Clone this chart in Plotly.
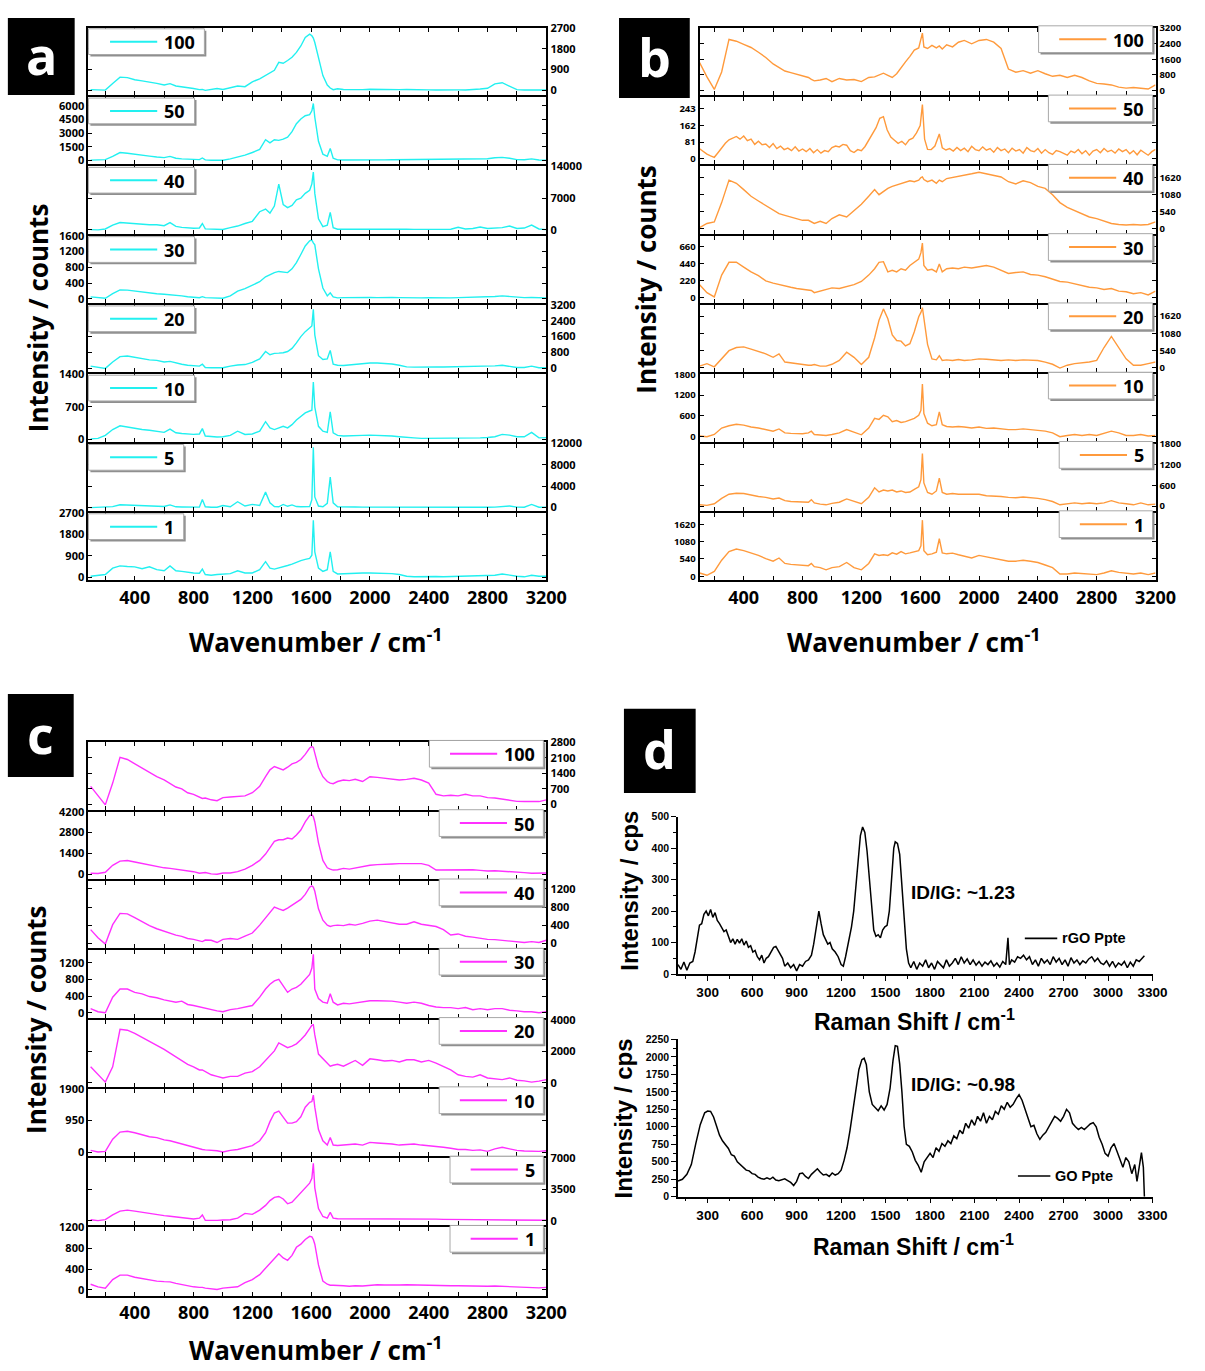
import plotly.graph_objects as go

W, H = 1205, 1371

# ---------------------------------------------------------------------------
# Data
# ---------------------------------------------------------------------------
# Raman shift grid shared by the stacked spectra (cm^-1)
WAVENUMBER = [
    100, 150, 200, 250, 300, 350, 400, 450, 500, 550,
    600, 640, 680, 720, 760, 800, 840, 860, 880, 920,
    960, 1000, 1050, 1100, 1150, 1200, 1250, 1290, 1320, 1350,
    1380, 1410, 1440, 1470, 1500, 1530, 1560, 1590, 1605, 1615,
    1625, 1650, 1680, 1710, 1730, 1750, 1780, 1820, 1860, 1900,
    1950, 2000, 2050, 2100, 2150, 2200, 2250, 2300, 2350, 2400,
    2450, 2500, 2550, 2600, 2650, 2700, 2750, 2800, 2850, 2900,
    2950, 3000, 3050, 3100, 3150, 3200,
]
# finer grid for the noisy 50-cycle spectrum of panel b
B50_SHIFT = [
    100, 125, 150, 175, 200, 225, 250, 275, 300, 325,
    350, 375, 400, 425, 450, 475, 500, 525, 550, 575,
    600, 625, 650, 675, 700, 725, 750, 775, 800, 825,
    850, 875, 900, 925, 950, 975, 1000, 1025, 1050, 1075,
    1100, 1125, 1150, 1175, 1200, 1225, 1250, 1275, 1300, 1325,
    1350, 1375, 1400, 1425, 1450, 1475, 1500, 1525, 1550, 1575,
    1600, 1615, 1630, 1650, 1675, 1700, 1730, 1750, 1775, 1800,
    1825, 1850, 1875, 1900, 1925, 1950, 1975, 2000, 2025, 2050,
    2075, 2100, 2125, 2150, 2175, 2200, 2225, 2250, 2275, 2300,
    2325, 2350, 2375, 2400, 2425, 2450, 2475, 2500, 2525, 2550,
    2575, 2600, 2625, 2650, 2675, 2700, 2725, 2750, 2775, 2800,
    2825, 2850, 2875, 2900, 2925, 2950, 2975, 3000, 3025, 3050,
    3075, 3100, 3125, 3150, 3175, 3200,
]

SAMPLE_LABELS = ["100", "50", "40", "30", "20", "10", "5", "1"]

# ---- panel a (cyan) ----
A_100 = [
    30, 25, 10, 300, 570, 550, 460, 410, 370, 300,
    230, 290, 190, 160, 120, 80, 30, 40, 0, 30,
    80, 40, 100, 190, 160, 370, 500, 640, 750, 870,
    1210, 1170, 1290, 1430, 1640, 1920, 2290, 2430, 2360, 2260,
    2070, 1430, 640, 230, 100, 30, 70, 40, 30, 45,
    30, 50, 40, 35, 45, 30, 40, 25, 35, 20,
    15, 25, 10, 20, 15, 25, 60, 90, 280, 330,
    180, 30, 15, 20, 10, 15,
]
A_50 = [
    50, 50, 100, 450, 880, 800, 670, 560, 490, 390,
    320, 460, 250, 180, 140, 70, 100, 280, 70, 35,
    35, 35, 180, 350, 600, 880, 1230, 2280, 1930, 2280,
    2210, 2350, 2560, 3160, 4040, 4560, 4910, 5020, 5440, 6250,
    4740, 2110, 700, 460, 1330, 250, 70, 60, 50, 70,
    60, 70, 80, 70, 80, 90, 80, 90, 100, 90,
    100, 110, 100, 110, 120, 110, 130, 200, 300, 350,
    250, 100, 90, 180, 60, 30,
]
A_40 = [
    50, 0, 200, 1050, 1610, 1470, 1330, 1190, 1120, 1120,
    910, 1610, 770, 560, 420, 350, 420, 1400, 210, 140,
    140, 70, 490, 840, 1400, 1890, 4000, 4600, 3710, 5250,
    10100, 5600, 4900, 5390, 6650, 7000, 8050, 8750, 10150, 12740,
    8050, 2450, 700, 1050, 3850, 490, 140, 150, 140, 180,
    200, 210, 220, 200, 180, 150, 120, 100, 80, 60,
    90, 80, 150, 560, 200, 300, 630, 300, 400, 500,
    840, 300, 400, 1050, 200, 50,
]
A_30 = [
    50, 30, 15, 130, 225, 220, 195, 170, 145, 130,
    115, 105, 95, 75, 55, 50, 30, 55, 30, 25,
    15, 15, 75, 195, 260, 355, 435, 560, 615, 665,
    695, 680, 665, 760, 920, 1125, 1340, 1470, 1490, 1420,
    1370, 760, 275, 75, 155, 50, 25, 30, 35, 30,
    40, 35, 30, 40, 35, 30, 25, 30, 25, 30,
    25, 30, 25, 30, 35, 30, 40, 50, 60, 75,
    60, 40, 30, 35, 25, 25,
]
A_20 = [
    100, 30, -15, 310, 580, 615, 550, 470, 420, 390,
    310, 340, 260, 195, 145, 115, 100, 195, 30, 15,
    0, 15, 100, 160, 180, 290, 470, 840, 680, 745,
    760, 780, 840, 1000, 1280, 1600, 1850, 2060, 2140, 2980,
    1690, 630, 440, 470, 900, 195, 145, 130, 160, 195,
    195, 260, 260, 245, 210, 145, 65, 50, 65, 60,
    65, 55, 65, 60, 70, 60, 70, 80, 115, 145,
    100, 30, 30, 100, 15, 15,
]
A_10 = [
    10, 20, 85, 210, 290, 260, 245, 210, 195, 180,
    150, 220, 140, 125, 110, 105, 115, 230, 70, 55,
    50, 55, 85, 175, 105, 115, 175, 380, 245, 210,
    250, 280, 245, 315, 415, 485, 570, 610, 625, 1235,
    695, 280, 175, 150, 590, 140, 85, 70, 70, 70,
    85, 90, 85, 85, 70, 55, 35, 30, 20, 20,
    25, 20, 25, 20, 30, 25, 30, 40, 55, 105,
    90, 55, 55, 150, 30, 35,
]
A_5 = [
    0, 20, 60, 180, 540, 500, 420, 360, 300, 250,
    200, 500, 150, 120, 100, 80, 100, 1500, 150, 80,
    80, 400, 150, 1100, 300, 600, 400, 2900, 900, 200,
    150, 600, 250, 500, 200, 150, 150, 200, 1500, 11300,
    2000, 300, 150, 800, 5700, 900, 150, 100, 90, 110,
    100, 90, 100, 80, 90, 70, 60, 50, 60, 50,
    60, 50, 40, 60, 50, 60, 70, 80, 100, 150,
    300, 100, 80, 600, 80, 60,
]
A_1 = [
    40, 70, 110, 380, 475, 450, 435, 355, 435, 315,
    270, 475, 270, 245, 205, 175, 165, 340, 110, 80,
    110, 120, 150, 270, 175, 175, 315, 650, 380, 340,
    380, 450, 490, 545, 625, 695, 750, 790, 925, 2390,
    1060, 380, 245, 315, 1060, 245, 135, 150, 165, 150,
    175, 175, 165, 165, 150, 110, 40, 15, 30, 25,
    30, 20, 30, 25, 35, 30, 40, 50, 80, 135,
    80, 40, 15, 80, 40, 40,
]

# ---- panel b (orange) ----
B_100 = [
    1430, 700, 60, 950, 2610, 2520, 2360, 2200, 1960, 1690,
    1360, 1200, 1000, 920, 840, 780, 670, 570, 500, 540,
    620, 460, 620, 540, 570, 460, 670, 700, 780, 890,
    780, 670, 860, 1180, 1470, 1750, 2070, 2180, 2560, 2930,
    2230, 2150, 2310, 2180, 2280, 2120, 2340, 2230, 2470, 2560,
    2390, 2560, 2610, 2470, 2150, 1100, 940, 1020, 890, 1020,
    860, 730, 780, 670, 780, 670, 500, 370, 340, 290,
    180, 130, 160, 130, 80, 290,
]
B_50 = [
    49, 35, 23, 15, 8, 30, 54, 75, 92, 100,
    108, 95, 110, 88, 95, 70, 85, 68, 72, 55,
    74, 50, 62, 45, 52, 40, 58, 38, 48, 35,
    50, 30, 45, 28, 40, 35, 55, 62, 58, 70,
    66, 40, 31, 45, 40, 60, 92, 120, 150, 195,
    203, 140, 105, 90, 75, 85, 68, 92, 100, 125,
    160, 261, 95, 46, 45, 62, 120, 54, 43, 50,
    38, 55, 40, 52, 35, 61, 45, 40, 58, 42,
    50, 32, 55, 40, 48, 30, 52, 38, 45, 28,
    55, 40, 35, 50, 28, 45, 30, 22, 40, 35,
    25, 18, 38, 30, 45, 25, 40, 18, 38, 45,
    30, 50, 35, 42, 28, 48, 35, 45, 25, 40,
    20, 42, 30, 18, 35, 46,
]
B_40 = [
    40, 170, 220, 830, 1540, 1440, 1240, 1030, 880, 730,
    580, 480, 425, 375, 325, 270, 270, 220, 170, 240,
    170, 325, 445, 375, 580, 780, 1030, 1240, 1080, 1180,
    1280, 1340, 1390, 1440, 1490, 1520, 1490, 1540, 1620, 1640,
    1560, 1490, 1540, 1440, 1540, 1490, 1590, 1620, 1660, 1690,
    1740, 1790, 1740, 1690, 1640, 1490, 1420, 1520, 1460, 1340,
    1280, 1080, 830, 680, 580, 480, 375, 325, 240, 170,
    140, 120, 140, 120, 140, 220,
]
B_30 = [
    167, 63, 8, 292, 459, 459, 396, 334, 284, 217,
    188, 167, 146, 133, 117, 104, 100, 92, 63, 83,
    104, 125, 117, 146, 167, 209, 292, 375, 459, 467,
    334, 355, 334, 375, 355, 417, 459, 500, 584, 709,
    417, 355, 367, 334, 438, 334, 375, 384, 375, 396,
    384, 396, 417, 396, 355, 313, 325, 334, 300, 292,
    271, 242, 209, 200, 175, 159, 133, 125, 104, 117,
    83, 75, 50, 63, 33, 83,
]
B_20 = [
    40, 120, 20, 270, 530, 630, 650, 580, 510, 430,
    320, 430, 170, 140, 120, 100, 70, 70, 90, 40,
    40, 100, 220, 480, 320, 90, 320, 930, 1490, 1850,
    1540, 1030, 850, 830, 680, 750, 1130, 1600, 1740, 1890,
    1540, 730, 270, 240, 370, 220, 240, 220, 250, 220,
    240, 270, 260, 240, 220, 240, 220, 240, 220, 220,
    170, 100, -20, 70, 120, 140, 170, 220, 630, 980,
    630, 270, 70, 70, 120, 170,
]
B_10 = [
    20, 0, 65, 250, 315, 360, 335, 280, 250, 205,
    160, 225, 110, 95, 95, 85, 110, 160, 65, 45,
    35, 65, 110, 205, 130, 55, 250, 530, 500, 620,
    575, 435, 465, 410, 435, 480, 530, 620, 760, 1520,
    670, 390, 315, 345, 715, 345, 295, 280, 295, 280,
    250, 280, 240, 250, 225, 205, 205, 225, 205, 185,
    160, 110, 0, 35, 65, 35, 65, 35, 95, 160,
    110, 35, 35, 65, 20, 35,
]
B_5 = [
    35, 20, 65, 220, 340, 370, 360, 315, 275, 250,
    205, 230, 155, 130, 130, 110, 110, 185, 90, 55,
    35, 75, 110, 205, 130, 65, 250, 525, 405, 460,
    435, 460, 405, 435, 390, 405, 480, 555, 760, 1515,
    665, 390, 340, 435, 805, 390, 340, 360, 340, 340,
    325, 340, 295, 295, 275, 250, 240, 260, 250, 220,
    185, 130, 35, 65, 90, 65, 85, 65, 90, 155,
    90, 65, 35, 90, 35, 55,
]
B_1 = [
    100, 30, 150, 500, 770, 850, 800, 730, 650, 550,
    470, 570, 400, 370, 350, 330, 330, 400, 300, 270,
    200, 270, 300, 430, 270, 200, 400, 700, 650, 670,
    650, 730, 690, 770, 700, 730, 770, 800, 950, 1750,
    800, 670, 700, 750, 1170, 730, 700, 720, 670, 630,
    570, 650, 600, 550, 500, 470, 470, 500, 470, 430,
    350, 270, 70, 70, 100, 90, 70, 50, 100, 170,
    120, 90, 70, 100, 50, 100,
]

# ---- panel c (magenta) ----
C_100 = [
    810, 380, -30, 960, 2130, 2030, 1840, 1650, 1460, 1250,
    1100, 930, 780, 700, 520, 450, 300, 260, 280, 200,
    160, 300, 330, 350, 380, 520, 810, 1250, 1560, 1710,
    1650, 1560, 1680, 1830, 1900, 2030, 2260, 2550, 2620, 2580,
    2320, 1680, 1250, 1030, 960, 930, 1030, 1100, 1070, 1130,
    1030, 1250, 1220, 1180, 1160, 1100, 1130, 1180, 1100, 960,
    450, 380, 410, 380, 450, 380, 380, 300, 280, 230,
    160, 130, 120, 120, 120, 200,
]
C_50 = [
    65, 45, 130, 600, 880, 925, 820, 710, 600, 495,
    430, 390, 345, 300, 260, 170, 65, 65, 110, 20,
    0, 85, 85, 170, 345, 600, 925, 1355, 1785, 2215,
    2320, 2320, 2430, 2365, 2645, 2970, 3515, 3940, 4000, 3870,
    3515, 2110, 925, 430, 345, 280, 300, 390, 345, 430,
    495, 600, 645, 645, 690, 710, 690, 710, 710, 600,
    280, 280, 300, 280, 320, 300, 260, 215, 235, 215,
    170, 130, 110, 65, 65, 85,
]
C_40 = [
    300, 120, -20, 410, 660, 650, 565, 475, 390, 320,
    260, 225, 180, 150, 105, 85, 50, 35, 70, 65,
    15, 85, 105, 85, 155, 225, 400, 560, 690, 800,
    760, 725, 775, 845, 915, 970, 1080, 1240, 1270, 1240,
    1150, 760, 510, 400, 370, 390, 400, 390, 420, 400,
    440, 490, 510, 475, 440, 420, 420, 475, 420, 400,
    370, 300, 180, 205, 155, 135, 105, 85, 80, 65,
    35, 30, 15, 35, 15, 65,
]
C_30 = [
    100, 25, 0, 375, 570, 570, 490, 455, 390, 360,
    310, 280, 255, 280, 200, 175, 140, 125, 100, 75,
    45, 25, 75, 100, 140, 175, 375, 570, 685, 765,
    800, 645, 490, 570, 610, 685, 800, 920, 1075, 1405,
    570, 340, 255, 230, 455, 255, 190, 230, 215, 240,
    255, 290, 290, 290, 280, 255, 230, 255, 230, 175,
    140, 125, 125, 100, 125, 75, 100, 75, 100, 100,
    60, 45, 25, 25, 0, 25,
]
C_20 = [
    1010, 505, 40, 1010, 3390, 3330, 3130, 2870, 2625, 2380,
    2120, 1880, 1660, 1415, 1170, 1010, 810, 810, 710, 505,
    405, 305, 405, 405, 610, 710, 1010, 1415, 1660, 2020,
    2525, 2380, 2220, 2320, 2465, 2725, 3030, 3430, 3635, 3680,
    3030, 1820, 1515, 1210, 1050, 1110, 1170, 1050, 1210, 1415,
    1110, 1515, 1455, 1375, 1415, 1315, 1455, 1455, 1315, 1415,
    1250, 1010, 810, 505, 405, 360, 505, 305, 240, 200,
    305, 160, 120, 40, 100, 200,
]
C_10 = [
    50, 0, 20, 385, 600, 625, 580, 530, 460, 435,
    365, 340, 290, 240, 195, 145, 95, 75, 65, 50,
    40, 0, 50, 75, 145, 195, 340, 580, 915, 1175,
    1235, 1060, 870, 870, 915, 1060, 1350, 1495, 1520, 1715,
    1350, 675, 340, 210, 435, 210, 195, 210, 230, 240,
    210, 290, 270, 260, 240, 210, 230, 240, 210, 195,
    175, 145, 115, 75, 75, 50, 65, 20, 95, 145,
    95, 50, 30, 20, 20, 40,
]
C_5 = [
    110, 0, 110, 640, 1070, 1180, 1070, 930, 820, 710,
    570, 500, 430, 360, 285, 180, 285, 640, 35, 0,
    35, 70, 110, 285, 820, 710, 1180, 1710, 2250, 2610,
    2710, 2430, 1890, 2070, 2610, 3140, 3680, 4210, 4750, 6430,
    3680, 1360, 465, 285, 930, 285, 215, 215, 200, 230,
    220, 240, 230, 215, 200, 210, 200, 190, 200, 180,
    170, 150, 140, 120, 120, 110, 110, 100, 120, 140,
    110, 80, 60, 50, 40, 40,
]
C_1 = [
    110, 60, 35, 200, 285, 285, 245, 220, 185, 170,
    160, 155, 125, 100, 80, 60, 50, 50, 35, 20,
    10, 35, 50, 60, 140, 200, 295, 420, 510, 600,
    695, 615, 570, 665, 820, 880, 970, 1030, 1020, 970,
    880, 480, 170, 110, 90, 90, 80, 80, 70, 80,
    75, 90, 100, 95, 90, 95, 100, 95, 90, 95,
    90, 85, 80, 80, 75, 80, 70, 70, 75, 70,
    65, 60, 50, 45, 40, 50,
]

# y tick labels of each stacked frame, top frame first
A_YTICKS = [
    [0, 900, 1800, 2700], [0, 1500, 3000, 4500, 6000], [0, 7000, 14000],
    [0, 400, 800, 1200, 1600], [0, 800, 1600, 2400, 3200], [0, 700, 1400],
    [0, 4000, 8000, 12000], [0, 900, 1800, 2700],
]
B_YTICKS = [
    [0, 800, 1600, 2400, 3200], [0, 81, 162, 243], [0, 540, 1080, 1620],
    [0, 220, 440, 660], [0, 540, 1080, 1620], [0, 600, 1200, 1800],
    [0, 600, 1200, 1800], [0, 540, 1080, 1620],
]
C_YTICKS = [
    [0, 700, 1400, 2100, 2800], [0, 1400, 2800, 4200], [0, 400, 800, 1200],
    [0, 400, 800, 1200], [0, 2000, 4000], [0, 950, 1900],
    [0, 3500, 7000], [0, 400, 800, 1200],
]

# ---- panel d ----
RGO_SHIFT = [
    100, 120, 140, 160, 180, 200, 215, 230, 245, 260,
    275, 290, 305, 320, 335, 350, 365, 380, 395, 410,
    425, 440, 455, 470, 485, 500, 515, 530, 545, 560,
    575, 590, 605, 620, 635, 650, 665, 680, 695, 710,
    725, 745, 760, 775, 790, 805, 820, 840, 860, 880,
    900, 920, 940, 960, 980, 1000, 1015, 1030, 1050, 1065,
    1080, 1095, 1110, 1125, 1140, 1160, 1180, 1200, 1215, 1230,
    1250, 1270, 1285, 1300, 1315, 1330, 1345, 1360, 1375, 1390,
    1405, 1420, 1435, 1450, 1465, 1480, 1495, 1510, 1525, 1540,
    1555, 1565, 1580, 1595, 1610, 1625, 1640, 1655, 1670, 1690,
    1710, 1730, 1750, 1770, 1790, 1810, 1830, 1850, 1870, 1890,
    1910, 1930, 1950, 1970, 1990, 2010, 2030, 2050, 2070, 2090,
    2110, 2130, 2150, 2170, 2190, 2210, 2230, 2250, 2270, 2290,
    2310, 2325, 2335, 2350, 2370, 2390, 2410, 2430, 2450, 2470,
    2490, 2510, 2530, 2550, 2570, 2590, 2610, 2630, 2650, 2670,
    2690, 2710, 2730, 2750, 2770, 2790, 2810, 2830, 2850, 2870,
    2890, 2910, 2930, 2950, 2970, 2990, 3010, 3030, 3050, 3070,
    3090, 3110, 3130, 3150, 3170, 3190, 3210, 3230, 3245,
]
RGO_INTENSITY = [
    30, 15, 38, 12, 35, 40, 70, 110, 155, 160,
    190, 200, 185, 205, 180, 195, 170, 160, 145, 135,
    140, 118, 100, 112, 95, 110, 98, 112, 92, 105,
    85, 90, 70, 75, 55, 45, 60, 35, 50, 55,
    70, 85, 88, 75, 65, 50, 25, 35, 20, 30,
    10, 30, 25, 40, 45, 60, 95, 140, 200, 160,
    125, 110, 95, 100, 80, 70, 55, 30, 25, 55,
    100, 150, 200, 290, 380, 440, 467, 450, 390, 300,
    200, 140, 120, 125, 115, 140, 150, 155, 200, 290,
    400, 420, 415, 380, 280, 160, 80, 35, 20, 40,
    15, 35, 25, 45, 20, 35, 15, 40, 30, 20,
    45, 25, 35, 50, 30, 55, 35, 48, 30, 45,
    28, 40, 25, 38, 30, 42, 25, 35, 22, 40,
    30, 115, 30, 45, 38, 55, 50, 60, 45, 55,
    30, 45, 25, 50, 35, 45, 30, 55, 38, 50,
    30, 45, 25, 52, 35, 45, 30, 42, 35, 48,
    55, 40, 50, 35, 30, 42, 25, 40, 22, 35,
    28, 40, 20, 38, 25, 45, 40, 50, 58,
]
GO_SHIFT = [
    100, 130, 160, 190, 220, 250, 280, 300, 320, 340,
    360, 380, 400, 420, 440, 460, 480, 500, 520, 540,
    560, 580, 600, 620, 640, 660, 680, 700, 720, 740,
    760, 780, 800, 820, 840, 860, 880, 900, 920, 940,
    960, 980, 1000, 1020, 1040, 1060, 1080, 1100, 1120, 1140,
    1160, 1180, 1200, 1220, 1240, 1260, 1280, 1300, 1320, 1340,
    1355, 1370, 1390, 1410, 1430, 1450, 1470, 1490, 1510, 1530,
    1550, 1565, 1580, 1595, 1610, 1625, 1640, 1660, 1680, 1700,
    1720, 1740, 1760, 1780, 1800, 1820, 1840, 1860, 1880, 1900,
    1920, 1940, 1960, 1980, 2000, 2020, 2040, 2060, 2080, 2100,
    2120, 2140, 2160, 2180, 2200, 2220, 2240, 2260, 2280, 2300,
    2320, 2340, 2360, 2380, 2400, 2420, 2440, 2460, 2480, 2500,
    2520, 2540, 2560, 2580, 2600, 2620, 2640, 2660, 2680, 2700,
    2720, 2740, 2760, 2780, 2800, 2820, 2840, 2860, 2880, 2900,
    2920, 2940, 2960, 2980, 3000, 3020, 3040, 3060, 3080, 3100,
    3120, 3140, 3160, 3180, 3195, 3210, 3225, 3238, 3245,
]
GO_INTENSITY = [
    225, 250, 320, 460, 760, 1030, 1200, 1225, 1220, 1140,
    1010, 880, 800, 750, 690, 600, 580, 500, 460, 430,
    380, 370, 330, 320, 280, 260, 250, 270, 250, 280,
    240, 230, 245, 255, 230, 205, 160, 220, 330, 340,
    290, 260, 320, 360, 400, 350, 310, 320, 290, 340,
    310, 330, 380, 520, 700, 950, 1250, 1550, 1820, 1960,
    1980, 1890, 1500, 1320, 1270, 1230, 1300, 1240, 1320, 1550,
    1950, 2160, 2150, 1900, 1500, 1000, 750, 720, 640, 520,
    450, 350, 500, 560, 620, 560, 700, 650, 760, 720,
    800, 760, 870, 830, 950, 900, 1050, 980, 1100, 1020,
    1150, 1080, 1200, 1050, 1150, 1100, 1220, 1180, 1300, 1250,
    1350, 1280, 1320, 1400, 1460, 1380, 1250, 1150, 1000, 1020,
    900, 820, 880, 920, 1000, 1080, 1150, 1120, 1080, 1150,
    1250, 1200, 1050, 1000, 960, 990, 960, 1000, 1040, 1060,
    1000, 850, 750, 620, 580, 700, 760, 650, 520, 420,
    560, 500, 330, 460, 220, 420, 630, 420, 0,
]

# ---------------------------------------------------------------------------
# Figure construction
# ---------------------------------------------------------------------------
STACK_FONT = "Open Sans"
D_FONT = "Liberation Sans"

fig = go.Figure()
axes = {}
shapes = []
annotations = []


def fx(p):
    return p / W


def fy(p):
    return 1 - p / H


def axis_names(n):
    s = "" if n == 1 else str(n)
    return "x" + s, "y" + s, "xaxis" + s, "yaxis" + s


def rect(x0, y0, x1, y1, fill, line_color=None, line_width=0):
    shapes.append(dict(
        type="rect", xref="paper", yref="paper", layer="above",
        x0=fx(x0), x1=fx(x1), y0=fy(y1), y1=fy(y0),
        fillcolor=fill,
        line=dict(color=line_color or fill, width=line_width),
    ))


def hline(x0, x1, y, color, width):
    shapes.append(dict(
        type="line", xref="paper", yref="paper", layer="above",
        x0=fx(x0), x1=fx(x1), y0=fy(y), y1=fy(y),
        line=dict(color=color, width=width),
    ))


def text(x, y, s, size, family, color="black", angle=0, xanchor="center"):
    annotations.append(dict(
        x=fx(x), y=fy(y), xref="paper", yref="paper", text=s,
        showarrow=False, textangle=angle, xanchor=xanchor, yanchor="middle",
        font=dict(family=family, size=size, color=color, weight="bold"),
    ))


LABEL_WIDTH = {1: 10, 2: 21, 3: 31}


def stack_legend(label, color, left, right, top, at_right):
    tw = LABEL_WIDTH[len(label)]
    if at_right:
        t_right = right - 14
        t_left = t_right - tw
        l1 = t_left - 5
        l0 = l1 - 48
        b0, b1 = l0 - 21, right - 3
        y0, y1 = top - 1, top + 26
    else:
        t_left = left + 75
        l0, l1 = left + 22, left + 70
        b0, b1 = left, t_left + tw + 12
        y0, y1 = top + 2, top + 28
    yc = (y0 + y1) / 2
    rect(b0 + 2, y0 + 2, b1 + 2, y1 + 2, "#8f8f8f")
    rect(b0, y0, b1, y1, "white", "#a8a8a8", 1)
    hline(l0, l1, yc, color, 2)
    text(t_left, yc + 0.5, label, 18, STACK_FONT, xanchor="left")


def add_stack(first, xs_list, series, yticks, yranges, color, left, right,
              bounds, xrange, ytick_size, legend_at_right):
    count = len(series)
    for i, values in enumerate(series):
        n = first + i
        xr, yr, xk, yk = axis_names(n)
        # axis lines sit just outside each frame, so neighbouring frames are
        # pulled 1 px apart for their 2 px lines to share the same pixels
        top, bottom = bounds[i] + 1, bounds[i + 1] - 1
        fig.add_trace(go.Scatter(
            x=xs_list[i], y=values, mode="lines", name=SAMPLE_LABELS[i],
            line=dict(color=color, width=1.4),
            xaxis=xr, yaxis=yr, showlegend=False,
        ))
        axes[xk] = dict(
            domain=[fx(left), fx(right)], range=xrange, anchor=yr,
            tickmode="linear", tick0=0, dtick=400,
            ticks="inside", ticklen=4, tickwidth=1.4, tickcolor="black",
            minor=dict(ticks="inside", tick0=0, dtick=200, ticklen=4,
                       tickwidth=1.4, tickcolor="black"),
            showline=True, linewidth=2, linecolor="black", mirror="allticks",
            showgrid=False, zeroline=False, exponentformat="none",
            showticklabels=(i == count - 1),
            tickfont=dict(family=STACK_FONT, size=18, color="black", weight="bold"),
        )
        ticks = yticks[i]
        axes[yk] = dict(
            domain=[fy(bottom), fy(top)], range=yranges[i], anchor=xr,
            side="right" if i % 2 == 0 else "left",
            tickmode="array", tickvals=ticks, ticktext=[str(v) for v in ticks],
            ticks="inside", ticklen=4, tickwidth=1.2, tickcolor="black",
            showline=True, linewidth=2, linecolor="black", mirror="allticks",
            showgrid=False, zeroline=False,
            tickfont=dict(family=STACK_FONT, size=ytick_size, color="black",
                          weight="bold"),
        )
        stack_legend(SAMPLE_LABELS[i], color, left, right, bounds[i],
                     legend_at_right)


# vertical extents of the frames (px from the top of the page)
BOUNDS_TOP = [19, 89, 159, 229, 299, 369, 439, 509, 579]
BOUNDS_C = [741, 811, 881, 951, 1021, 1091, 1161, 1231, 1302]

# y ranges of each frame (data units), matched to the label spacing
A_YRANGE = [[-205, 2705], [-420, 6950], [-840, 14010], [-104, 1602],
            [-210, 3205], [-48, 1402], [-600, 12010], [-123, 2705]]
B_YRANGE = [[-228, 3205], [-26, 297], [-152, 1975], [-71, 806],
            [-152, 1975], [-139, 1803], [-138, 1803], [-120, 1980]]
C_YRANGE = [[-250, 2805], [-323, 4205], [-113, 1377], [-115, 1500],
            [-260, 4005], [-124, 1903], [-535, 7010], [-111, 1202]]

CYAN = "#22F0F0"
ORANGE = "#FF9A3C"
MAGENTA = "#FF30FF"

GRID8 = [WAVENUMBER] * 8
add_stack(1, GRID8, [A_100, A_50, A_40, A_30, A_20, A_10, A_5, A_1],
          A_YTICKS, A_YRANGE, CYAN, 90, 556, BOUNDS_TOP, [85, 3200], 11, False)
add_stack(9, [WAVENUMBER, B50_SHIFT] + [WAVENUMBER] * 6,
          [B_100, B_50, B_40, B_30, B_20, B_10, B_5, B_1],
          B_YTICKS, B_YRANGE, ORANGE, 712, 1176, BOUNDS_TOP, [100, 3200], 9.5,
          True)
add_stack(17, GRID8, [C_100, C_50, C_40, C_30, C_20, C_10, C_5, C_1],
          C_YTICKS, C_YRANGE, MAGENTA, 90, 556, BOUNDS_C, [85, 3200], 11, True)


def add_d_plot(n, xs, ys, top, bottom, yrange, ydtick, yminor, label, legend_y,
               legend_x0, ratio_text, ratio_y):
    xr, yr, xk, yk = axis_names(n)
    fig.add_trace(go.Scatter(
        x=xs, y=ys, mode="lines", name=label,
        line=dict(color="black", width=1.5),
        xaxis=xr, yaxis=yr, showlegend=False,
    ))
    axes[xk] = dict(
        domain=[fx(690), fx(1173)], range=[100, 3300], anchor=yr,
        tickmode="linear", tick0=0, dtick=300,
        ticks="outside", ticklen=5, tickwidth=1.3, tickcolor="black",
        minor=dict(ticks="outside", tick0=0, dtick=150, ticklen=3,
                   tickwidth=1, tickcolor="black"),
        showline=True, linewidth=1.5, linecolor="black", mirror=False,
        showgrid=False, zeroline=False, exponentformat="none",
        tickfont=dict(family=D_FONT, size=13.5, color="black", weight="bold"),
    )
    axes[yk] = dict(
        domain=[fy(bottom), fy(top)], range=yrange, anchor=xr,
        tickmode="linear", tick0=0, dtick=ydtick,
        ticks="outside", ticklen=5, tickwidth=1.3, tickcolor="black",
        minor=dict(ticks="outside", tick0=0, dtick=yminor, ticklen=3,
                   tickwidth=1, tickcolor="black"),
        showline=True, linewidth=1.5, linecolor="black", mirror=False,
        showgrid=False, zeroline=False, exponentformat="none",
        tickfont=dict(family=D_FONT, size=10.5, color="black", weight="bold"),
    )
    hline(legend_x0, legend_x0 + 33, legend_y, "black", 1.6)
    text(legend_x0 + 36, legend_y, label, 14.5, D_FONT, xanchor="left")
    text(925, ratio_y, ratio_text, 19, D_FONT, xanchor="left")


add_d_plot(25, RGO_SHIFT, RGO_INTENSITY, 817, 976, [0, 500], 100, 50,
           "rGO Ppte", 940, 1043, "ID/IG: ~1.23", 894)
add_d_plot(26, GO_SHIFT, GO_INTENSITY, 1042, 1201, [0, 2250], 250, 125,
           "GO Ppte", 1180, 1036, "ID/IG: ~0.98", 1088)

# axis titles
XTITLE = "Wavenumber / cm<sup>-1</sup>"
YTITLE = "Intensity / counts"
text(322, 640, XTITLE, 26, STACK_FONT)
text(930, 640, XTITLE, 26, STACK_FONT)
text(322, 1355, XTITLE, 26, STACK_FONT)
text(38, 313, YTITLE, 26, STACK_FONT, angle=-90)
text(658, 275, YTITLE, 26, STACK_FONT, angle=-90)
text(36, 1022, YTITLE, 26, STACK_FONT, angle=-90)

text(931, 1022, "Raman Shift / cm<sup>-1</sup>", 23, D_FONT)
text(930, 1250, "Raman Shift / cm<sup>-1</sup>", 23, D_FONT)
text(641, 892, "Intensity / cps", 24, D_FONT, angle=-90)
text(635, 1122, "Intensity / cps", 24, D_FONT, angle=-90)

# panel letters
for letter, (x0, y0, x1, y1) in {
    "a": (8, 10, 76, 88), "b": (630, 10, 702, 91),
    "c": (8, 693, 75, 777), "d": (635, 708, 708, 793),
}.items():
    rect(x0, y0, x1, y1, "black")
    text((x0 + x1) / 2, (y0 + y1) / 2 - 2, letter, 52, STACK_FONT, color="white")

fig.update_layout(
    width=W, height=H, autosize=False,
    margin=dict(l=0, r=0, t=0, b=0),
    paper_bgcolor="white", plot_bgcolor="rgba(0,0,0,0)",
    showlegend=False,
    shapes=shapes, annotations=annotations,
    **axes,
)

fig.write_html("out.html")
